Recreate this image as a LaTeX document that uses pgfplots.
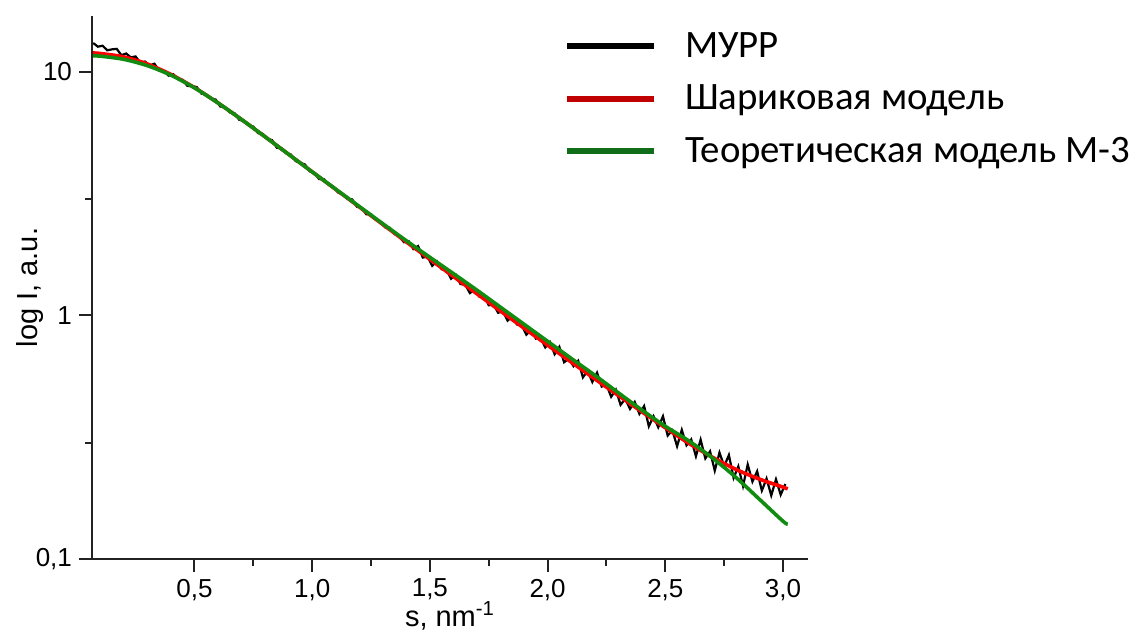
\documentclass[border=0pt]{standalone}
\usepackage{fontspec}
\setmainfont{Liberation Sans}
\newfontfamily\calibri{Carlito}
\usepackage{pgfplots}
\pgfplotsset{compat=1.18}
\definecolor{fitred}{HTML}{FF0000}
\definecolor{thgreen}{HTML}{118C11}
\definecolor{legred}{HTML}{C00000}
\definecolor{leggreen}{HTML}{0F6E17}
\definecolor{axgray}{HTML}{222222}

% y values are log10(I); ticks -1,0,1 are labelled 0,1 / 1 / 10
\begin{document}
\begin{tikzpicture}
\begin{axis}[
  name=main,
  scale only axis, width=358pt, height=271.5pt,
  xmin=0.065, xmax=3.106, ymin=-1, ymax=1.23,
  axis lines=left, axis line style={-, line width=1pt, axgray},
  xtick={0.5,1.0,1.5,2.0,2.5,3.0}, minor x tick num=1,
  ytick={-1,0,1}, yticklabels={{0,1},1,10},
  minor ytick={-0.523,0.477},
  tick align=outside, major tick length=6.5pt, minor tick length=3.5pt,
  every tick/.style={line width=1pt, axgray},
  /pgf/number format/assume math mode=true,
  xticklabel style={/pgf/number format/.cd, fixed, fixed zerofill, precision=1, use comma},
  ticklabel style={font=\fontsize{13}{15}\selectfont},
  xlabel={s, nm\textsuperscript{-1}},
  ylabel={log I, a.u.},
  every axis x label/.style={at={(axis description cs:0.5,-0.105)}, anchor=center,
    font=\fontsize{14.5}{17}\selectfont},
  every axis y label/.style={at={(axis description cs:-0.086,0.5)}, anchor=center, rotate=90,
    font=\fontsize{14.5}{17}\selectfont},
  legend style={draw=none, fill=none, at={(axis description cs:0.659,0.978)}, anchor=north west,
    font=\calibri\fontsize{19.4}{23}\selectfont, inner sep=0pt, row sep=8.2pt,
    nodes={inner sep=2pt}},
  legend cell align=left,
  /tikz/every odd column/.append style={column sep=12pt},
]
% МУРР (experimental curve)
\addplot[black, line width=1.1pt,
  legend image code/.code={\draw[black, line width=3pt] (0pt,0pt) -- (43.5pt,0pt);}]
coordinates {
(0.07,1.119)(0.09,1.104)(0.11,1.108)(0.13,1.089)(0.15,1.093)(0.17,1.095)(0.19,1.069)
(0.21,1.076)(0.23,1.060)(0.25,1.064)(0.27,1.038)(0.29,1.043)(0.31,1.027)(0.33,1.034)
(0.35,1.006)(0.37,1.004)(0.39,0.985)(0.41,0.991)(0.43,0.971)(0.45,0.968)(0.47,0.943)
(0.49,0.942)(0.51,0.938)(0.53,0.911)(0.55,0.908)(0.57,0.891)(0.59,0.887)(0.61,0.858)
(0.63,0.856)(0.65,0.834)(0.67,0.831)(0.69,0.804)(0.71,0.799)(0.73,0.781)(0.75,0.776)
(0.77,0.749)(0.79,0.746)(0.81,0.726)(0.83,0.720)(0.85,0.689)(0.87,0.687)(0.89,0.666)
(0.91,0.661)(0.93,0.634)(0.95,0.627)(0.97,0.620)(0.99,0.592)(1.01,0.586)(1.03,0.560)
(1.05,0.560)(1.07,0.538)(1.09,0.530)(1.11,0.505)(1.13,0.497)(1.15,0.479)(1.17,0.477)
(1.19,0.447)(1.21,0.442)(1.23,0.416)(1.25,0.416)(1.27,0.394)(1.29,0.384)(1.31,0.362)
(1.33,0.360)(1.35,0.335)(1.37,0.325)(1.39,0.301)(1.41,0.305)(1.43,0.273)(1.45,0.285)
(1.47,0.238)(1.49,0.242)(1.51,0.204)(1.53,0.222)(1.55,0.190)(1.57,0.189)(1.59,0.151)
(1.61,0.167)(1.63,0.129)(1.65,0.127)(1.67,0.092)(1.69,0.106)(1.71,0.078)(1.73,0.084)
(1.75,0.042)(1.77,0.045)(1.79,0.011)(1.81,0.019)(1.83,-0.021)(1.85,-0.005)(1.87,-0.037)
(1.89,-0.041)(1.91,-0.079)(1.93,-0.059)(1.95,-0.095)(1.97,-0.091)(1.99,-0.131)(2.01,-0.109)
(2.03,-0.159)(2.05,-0.129)(2.07,-0.192)(2.09,-0.178)(2.11,-0.208)(2.13,-0.186)(2.15,-0.254)
(2.17,-0.227)(2.19,-0.273)(2.21,-0.235)(2.23,-0.292)(2.25,-0.284)(2.27,-0.334)(2.29,-0.305)
(2.31,-0.367)(2.33,-0.342)(2.35,-0.384)(2.37,-0.355)(2.39,-0.404)(2.41,-0.372)(2.43,-0.455)
(2.45,-0.414)(2.47,-0.459)(2.49,-0.414)(2.51,-0.493)(2.53,-0.472)(2.55,-0.537)(2.57,-0.470)
(2.59,-0.533)(2.61,-0.509)(2.63,-0.578)(2.65,-0.510)(2.67,-0.587)(2.69,-0.558)(2.71,-0.637)
(2.73,-0.563)(2.75,-0.619)(2.77,-0.573)(2.79,-0.667)(2.81,-0.620)(2.83,-0.700)(2.85,-0.612)
(2.87,-0.682)(2.89,-0.640)(2.91,-0.719)(2.93,-0.670)(2.95,-0.739)(2.97,-0.673)(2.99,-0.736)
(3.01,-0.692)
};
\addlegendentry{МУРР}
% bead model fit
\addplot[fitred, line width=1.8pt, smooth,
  legend image code/.code={\draw[legred, line width=3pt] (0pt,0pt) -- (43.5pt,0pt);}]
coordinates {
(0.07,1.078)(0.1,1.076)(0.2,1.062)(0.3,1.033)(0.4,0.990)(0.5,0.936)(0.6,0.873)
(0.7,0.805)(0.8,0.734)(0.9,0.662)(1.0,0.590)(1.1,0.518)(1.2,0.446)(1.3,0.374)
(1.4,0.302)(1.5,0.231)(1.6,0.160)(1.7,0.089)(1.8,0.018)(1.9,-0.052)(2.0,-0.122)
(2.1,-0.191)(2.2,-0.260)(2.3,-0.328)(2.4,-0.395)(2.5,-0.461)(2.6,-0.525)(2.7,-0.582)
(2.8,-0.632)(2.9,-0.672)(3.0,-0.705)(3.02,-0.712)
};
\addlegendentry{Шариковая модель}
% theoretical model M-3
\addplot[thgreen, line width=1.8pt, smooth,
  legend image code/.code={\draw[leggreen, line width=3pt] (0pt,0pt) -- (43.5pt,0pt);}]
coordinates {
(0.07,1.066)(0.1,1.065)(0.2,1.052)(0.3,1.026)(0.4,0.987)(0.5,0.935)(0.6,0.873)
(0.7,0.805)(0.8,0.734)(0.9,0.662)(1.0,0.590)(1.1,0.519)(1.2,0.448)(1.3,0.377)
(1.4,0.307)(1.5,0.239)(1.6,0.172)(1.7,0.104)(1.8,0.034)(1.9,-0.036)(2.0,-0.106)
(2.1,-0.176)(2.2,-0.245)(2.3,-0.317)(2.4,-0.388)(2.5,-0.455)(2.6,-0.515)(2.7,-0.585)
(2.8,-0.665)(2.9,-0.755)(3.0,-0.845)(3.02,-0.857)
};
\addlegendentry{Теоретическая модель М-3}
\end{axis}
\pgfresetboundingbox
\path[use as bounding box] ([shift={(-46pt,-36pt)}]main.south west) rectangle ([shift={(519.5pt,279.5pt)}]main.south west);
\end{tikzpicture}
\end{document}
